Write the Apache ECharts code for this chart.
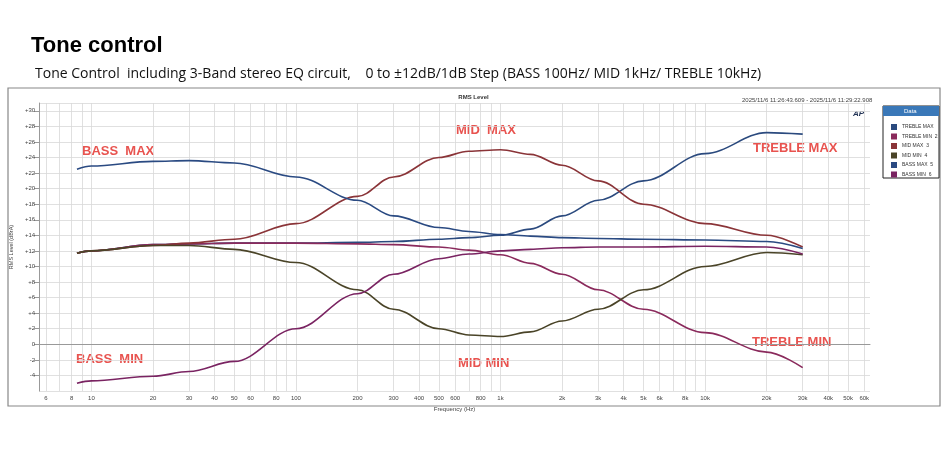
<!DOCTYPE html>
<html><head><meta charset="utf-8">
<script src="https://cdn.jsdelivr.net/npm/echarts@6/dist/echarts.min.js"></script>
<style>body{margin:0;background:#fff}#chart{width:947px;height:450px}</style>
</head><body><div id="chart"></div>
<script>
var freqs = [8.5, 10, 20, 30, 50, 100, 200, 300, 500, 700, 1000, 1400, 2000, 3000, 5000, 10000, 20000, 30000];
var trebleMax = [11.7, 12, 12.8, 12.9, 13, 13, 13.1, 13.2, 13.5, 13.7, 14, 14.8, 16.5, 18.5, 21, 24.5, 27.2, 27];
var trebleMin = [11.7, 12, 12.8, 12.9, 13, 13, 12.9, 12.8, 12.5, 12.1, 11.5, 10.4, 9, 7, 4.5, 1.5, -1, -3];
var midMax = [11.7, 12, 12.7, 13, 13.5, 15.5, 19, 21.5, 24, 24.8, 25, 24.4, 23, 21, 18, 15.5, 14, 12.5];
var midMin = [11.7, 12, 12.7, 12.7, 12.2, 10.5, 7, 4.5, 2, 1.2, 1, 1.6, 3, 4.5, 7, 10, 11.8, 11.5];
var bassMax = [22.5, 22.9, 23.5, 23.6, 23.3, 21.5, 18.5, 16.5, 15, 14.5, 14.1, 13.9, 13.7, 13.6, 13.5, 13.4, 13.2, 12.3];
var bassMin = [-5, -4.7, -4.1, -3.5, -2.2, 2, 6.5, 9, 11, 11.6, 12, 12.2, 12.4, 12.5, 12.5, 12.6, 12.5, 11.6];
var tickLabels = [6, 8, 10, 20, 30, 40, 50, 60, 80, 100, 200, 300, 400, 500, 600, 800, 1000, 2000, 3000, 4000, 5000, 6000, 8000, 10000, 20000, 30000, 40000, 50000, 60000];

var minorTicks = [];
[1, 10, 100, 1000, 10000].forEach(function (d) {
    for (var k = 1; k <= 9; k++) { if (d * k >= 6 && d * k <= 60000) minorTicks.push(d * k); }
});

function pts(arr) { return freqs.map(function (f, i) { return [f, arr[i]]; }); }

var names = ['TREBLE MAX', 'TREBLE MIN  2', 'MID MAX  3', 'MID MIN  4', 'BASS MAX  5', 'BASS MIN  6'];
var colors = ['#2b4a7e', '#8a2a5c', '#8a3438', '#4a4428', '#2a4a82', '#7a2462'];
var sets = [trebleMax, trebleMin, midMax, midMin, bassMax, bassMin];

var myChart = echarts.init(document.getElementById('chart'));
var option = {
    backgroundColor: '#fff',
    color: colors,
    title: [
        { text: 'Tone control', left: 26, top: 30, textStyle: { fontFamily: 'Arial', fontSize: 22, fontWeight: 'bold', color: '#000' } },
        { text: 'Tone Control  including 3-Band stereo EQ circuit,    0 to \u00b112dB/1dB Step (BASS 100Hz/ MID 1kHz/ TREBLE 10kHz)', left: 30, top: 62, textStyle: { fontFamily: 'Open Sans', fontSize: 14, fontWeight: 'normal', color: '#111' } },
        { text: 'RMS Level', left: 'center', top: 89, textStyle: { fontSize: 6, fontWeight: 'bold', color: '#333' } }
    ],
    graphic: [
        { type: 'rect', shape: { x: 8, y: 88, width: 932, height: 318 }, style: { fill: 'none', stroke: '#888', lineWidth: 1.2 } },
        { type: 'text', left: 742, top: 97, style: { text: '2025/11/6 11:26:43.609 - 2025/11/6 11:29:22.908', fontSize: 6, fill: '#444' } },
        { type: 'text', left: 853, top: 110, style: { text: 'AP', fontSize: 8, fontWeight: 'bold', fontStyle: 'italic', fill: '#235' } },
        { type: 'rect', shape: { x: 883, y: 106, width: 56, height: 72 }, style: { fill: '#fff', stroke: '#222', lineWidth: 1 } },
        { type: 'rect', shape: { x: 883, y: 106, width: 56, height: 10 }, style: { fill: '#3a78b8' } },
        { type: 'text', left: 904, top: 108, style: { text: 'Data', fontSize: 6, fill: '#fff' } },
        { type: 'text', left: 82, top: 145, style: { text: 'BASS  MAX', fontSize: 13, fontWeight: 'bold', fill: '#e8534f', fontFamily: 'Arial' } },
        { type: 'text', left: 76, top: 353, style: { text: 'BASS  MIN', fontSize: 13, fontWeight: 'bold', fill: '#e8534f', fontFamily: 'Arial' } },
        { type: 'text', left: 456, top: 124, style: { text: 'MID  MAX', fontSize: 13, fontWeight: 'bold', fill: '#e8534f', fontFamily: 'Arial' } },
        { type: 'text', left: 458, top: 357, style: { text: 'MID MIN', fontSize: 13, fontWeight: 'bold', fill: '#e8534f', fontFamily: 'Arial' } },
        { type: 'text', left: 753, top: 142, style: { text: 'TREBLE MAX', fontSize: 13, fontWeight: 'bold', fill: '#e8534f', fontFamily: 'Arial' } },
        { type: 'text', left: 752, top: 336, style: { text: 'TREBLE MIN', fontSize: 13, fontWeight: 'bold', fill: '#e8534f', fontFamily: 'Arial' } }
    ],
    legend: {
        orient: 'vertical', left: 886, top: 119, itemWidth: 6, itemHeight: 6, itemGap: 3.5,
        icon: 'rect', textStyle: { fontSize: 5, color: '#333' }, data: names
    },
    grid: { left: 28, right: 77, top: 103, bottom: 59 },
    xAxis: {
        type: 'log', logBase: 10, min: 5.55, max: 64000,
        name: 'Frequency (Hz)', nameLocation: 'middle', nameGap: 9, nameTextStyle: { fontSize: 6, color: '#444' },
        axisLine: { lineStyle: { color: '#999' } },
        axisTick: { show: false, customValues: minorTicks },
        axisLabel: {
            customValues: tickLabels, fontSize: 6, color: '#444', margin: 4,
            formatter: function (v) { return v >= 1000 ? (Math.round(v / 1000) + 'k') : Math.round(v); }
        },
        splitLine: { show: true, lineStyle: { color: '#d8d8d8', width: 0.8 } }
    },
    yAxis: {
        type: 'value', min: -6, max: 31, interval: 2,
        name: 'RMS Level (dBrA)', nameLocation: 'middle', nameGap: 16, nameTextStyle: { fontSize: 5.5, color: '#444' },
        axisLine: { show: true, lineStyle: { color: '#999' } },
        axisLabel: {
            fontSize: 6, color: '#444', margin: 4, showMinLabel: false, showMaxLabel: false,
            formatter: function (v) { return v > 0 ? '+' + v : String(v); }
        },
        splitLine: { lineStyle: { color: '#d8d8d8', width: 0.8 } }
    },
    series: sets.map(function (s, i) {
        return { name: names[i], type: 'line', smooth: 0.35, smoothMonotone: 'x', symbol: 'none', data: pts(s), lineStyle: { width: 1.6, color: colors[i] } };
    })
};
myChart.setOption(option);
</script>
</body></html>
